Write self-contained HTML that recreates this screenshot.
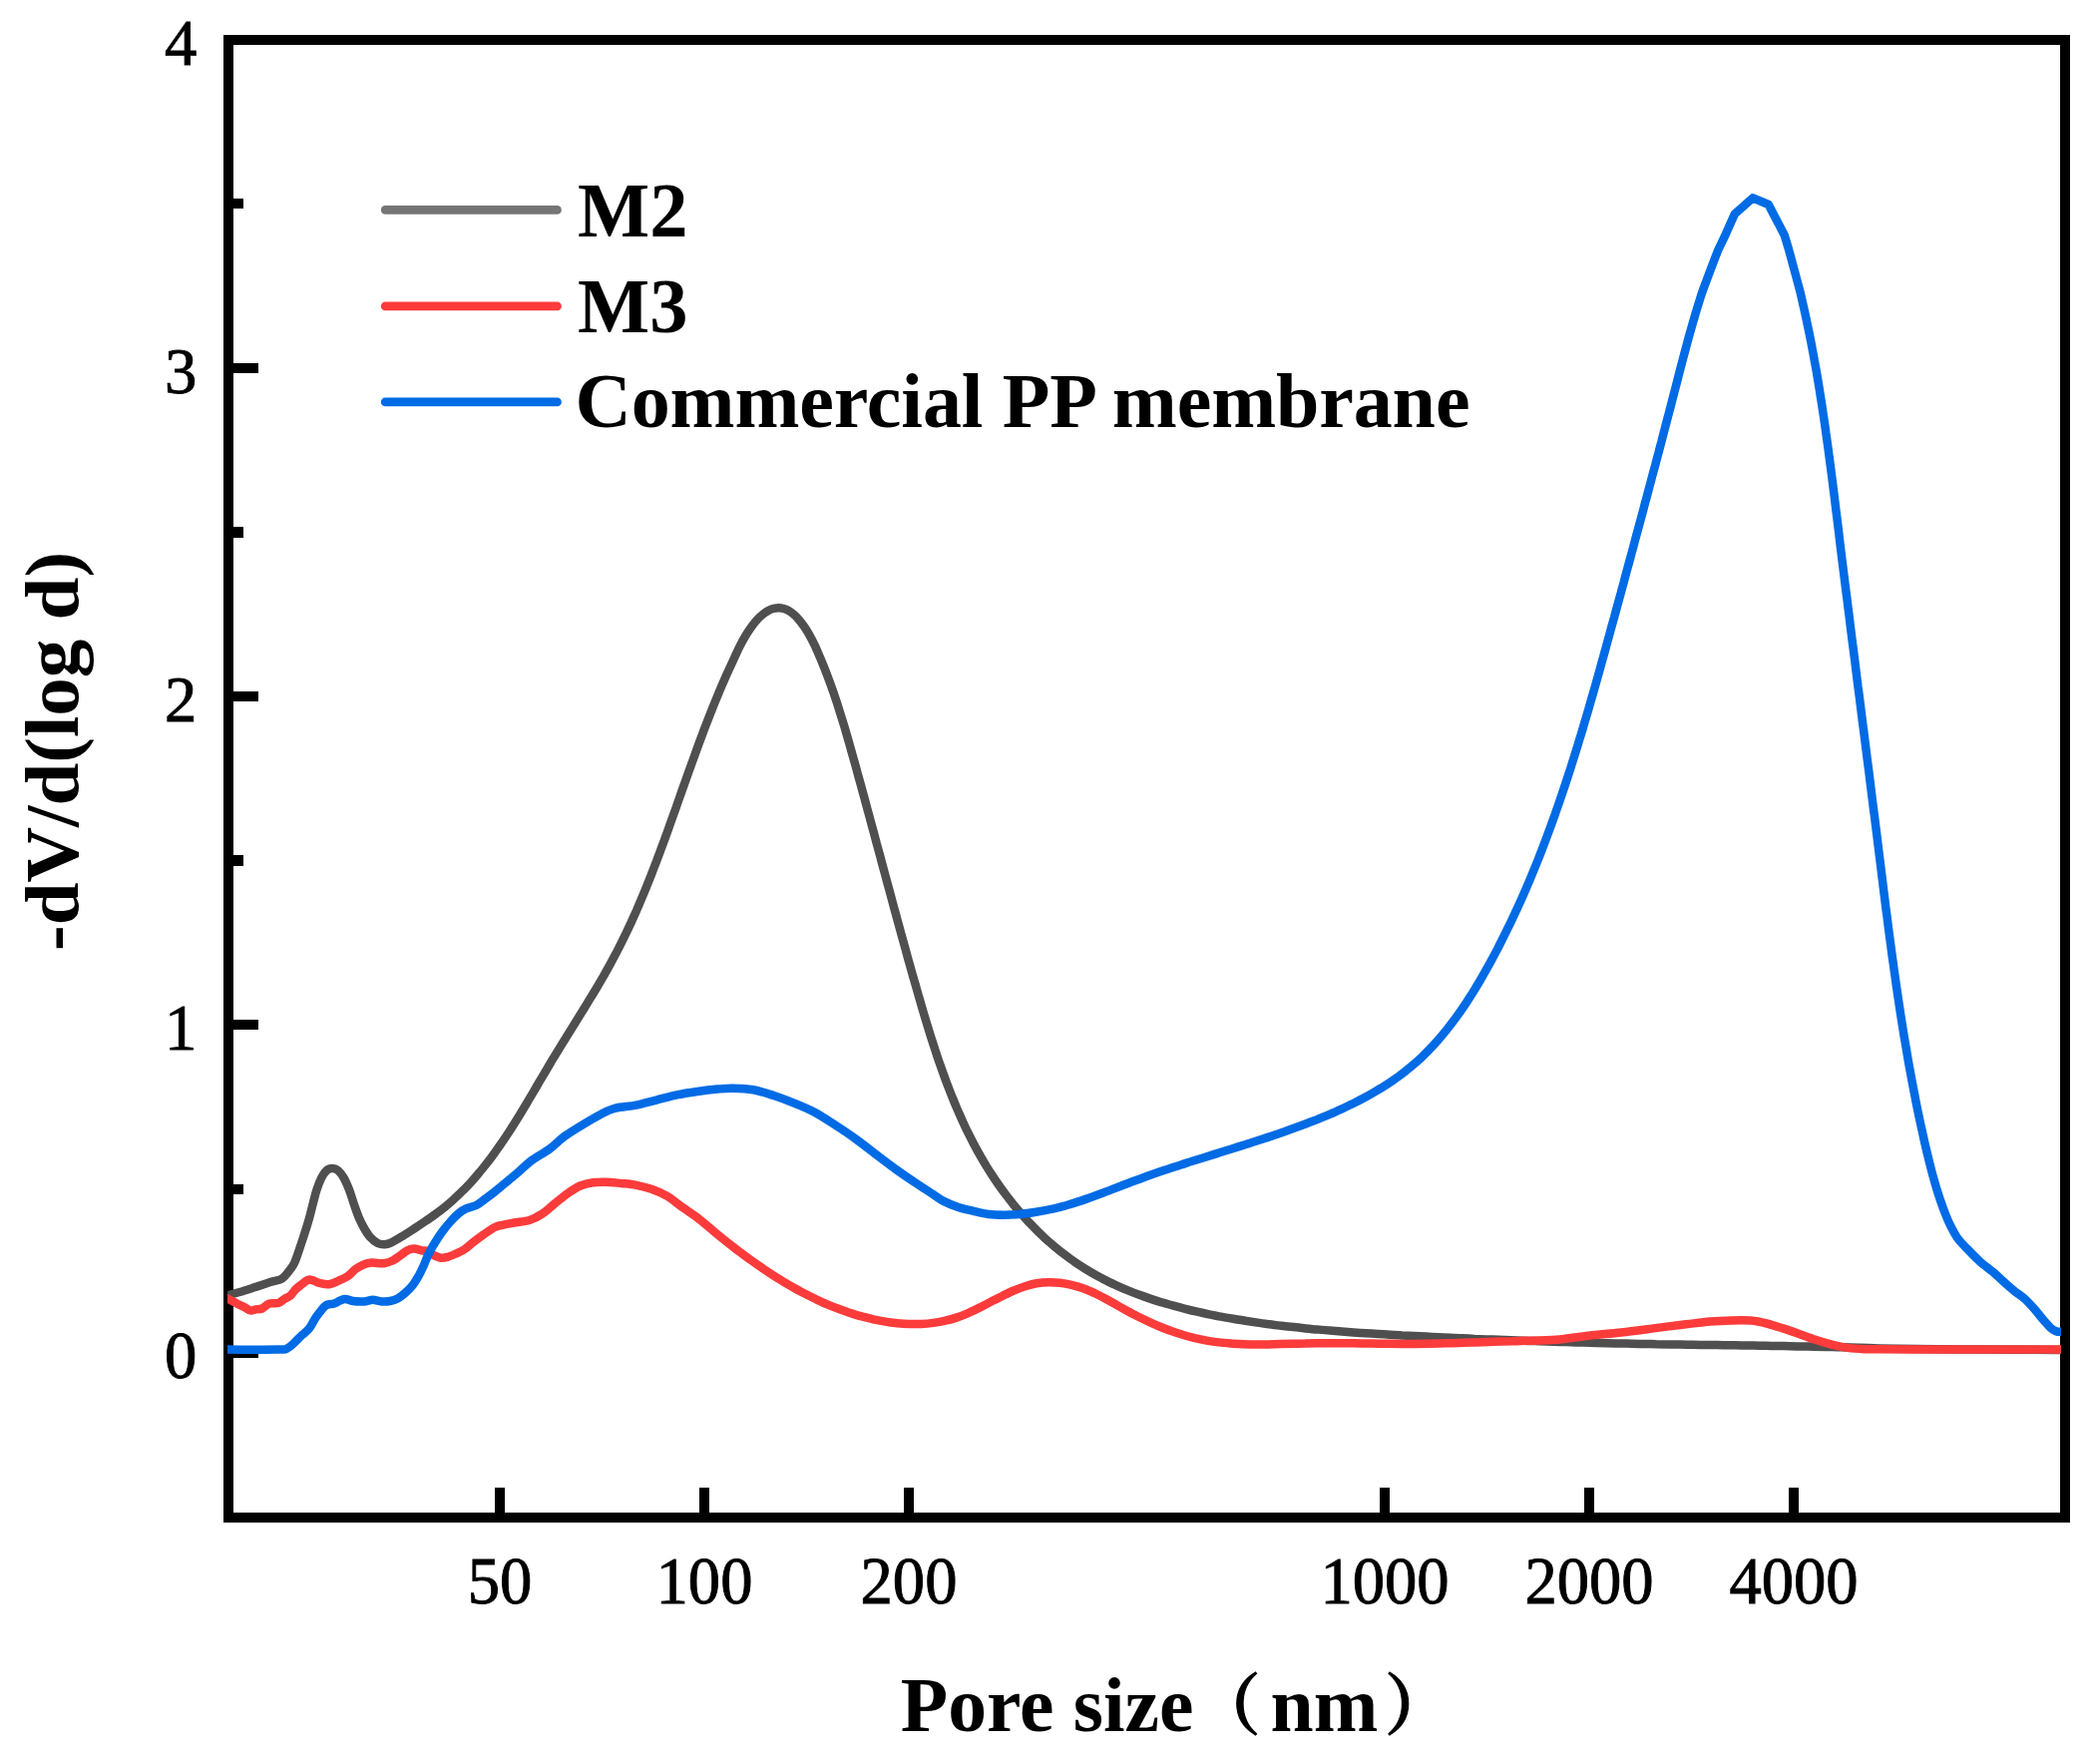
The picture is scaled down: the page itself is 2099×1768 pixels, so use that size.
<!DOCTYPE html>
<html lang="en"><head><meta charset="utf-8"><title>Pore size distribution</title>
<style>html,body{margin:0;padding:0;background:#fff}svg{display:block}.tk{font-family:"Liberation Serif","Noto Serif CJK SC",serif;font-size:64.6px;fill:#000;stroke:#000;stroke-width:.9px}.b{font-family:"Liberation Serif","Noto Serif CJK SC",serif;font-weight:bold;font-size:77px;fill:#000}.cj{font-family:"Liberation Serif","Noto Serif CJK SC",serif;font-weight:bold;font-size:77px;fill:#000}</style></head><body>
<svg width="2099" height="1768" viewBox="0 0 2099 1768">
<rect width="2099" height="1768" fill="#fff"/>
<defs><clipPath id="cp"><rect x="228" y="45" width="1838" height="1471"/></clipPath></defs>
<g shape-rendering="crispEdges" fill="#000">
<rect x="224" y="35" width="1851" height="10"/>
<rect x="224" y="1516" width="1851" height="10"/>
<rect x="224" y="35" width="10" height="1491"/>
<rect x="2065" y="35" width="10" height="1491"/>
<rect x="234" y="1351" width="25" height="10"/>
<rect x="234" y="1022" width="25" height="10"/>
<rect x="234" y="693" width="25" height="10"/>
<rect x="234" y="364" width="25" height="10"/>
<rect x="234" y="199" width="10" height="10"/>
<rect x="234" y="528" width="10" height="11"/>
<rect x="234" y="857" width="10" height="11"/>
<rect x="234" y="1187" width="10" height="10"/>
<rect x="496" y="1491" width="10" height="25"/>
<rect x="701" y="1491" width="10" height="25"/>
<rect x="906" y="1491" width="10" height="25"/>
<rect x="1383" y="1491" width="10" height="25"/>
<rect x="1588" y="1491" width="10" height="25"/>
<rect x="1793" y="1491" width="10" height="25"/>
</g>
<g clip-path="url(#cp)" fill="none" stroke-width="8.5" stroke-linejoin="round" stroke-linecap="butt">
<path stroke="#4f4f4f" d="M226.0,1299.0C226.3,1298.9 225.7,1299.1 228.1,1298.4C230.5,1297.7 235.7,1296.3 240.2,1295.0C244.7,1293.7 250.2,1291.9 255.2,1290.3C260.2,1288.7 265.5,1286.8 270.1,1285.3C274.7,1283.8 279.3,1283.6 282.6,1281.6C285.9,1279.6 287.9,1276.1 290.0,1273.5C292.1,1270.9 293.3,1269.5 295.0,1266.0C296.7,1262.5 298.3,1257.1 300.0,1252.3C301.7,1247.5 303.3,1242.5 305.0,1237.3C306.7,1232.1 308.5,1226.2 310.0,1221.0C311.5,1215.8 312.6,1210.8 313.8,1206.0C315.1,1201.2 316.1,1196.7 317.5,1192.4C318.9,1188.1 320.8,1183.2 322.5,1180.0C324.2,1176.8 325.8,1174.5 327.5,1173.0C329.2,1171.5 331.1,1171.0 333.0,1171.0C334.9,1171.0 336.8,1171.5 338.7,1173.0C340.6,1174.5 342.4,1176.8 344.3,1180.0C346.2,1183.2 348.2,1187.8 350.0,1192.4C351.8,1197.0 353.3,1202.6 355.0,1207.4C356.7,1212.2 358.3,1217.1 360.0,1221.0C361.7,1224.9 363.2,1227.9 365.0,1231.0C366.8,1234.1 368.7,1237.3 371.0,1239.8C373.3,1242.3 376.2,1244.8 378.6,1246.0C381.0,1247.2 383.2,1247.4 385.5,1247.3C387.8,1247.2 389.1,1246.9 392.3,1245.4C395.5,1243.9 401.0,1240.4 404.8,1238.1C408.7,1235.8 411.8,1233.7 415.3,1231.4C418.7,1229.2 422.2,1226.9 425.6,1224.6C429.0,1222.3 432.4,1220.0 435.7,1217.5C439.0,1215.1 442.3,1212.6 445.5,1210.1C448.7,1207.5 451.8,1204.8 454.8,1202.1C457.9,1199.4 460.8,1196.5 463.7,1193.6C466.6,1190.8 469.4,1187.8 472.2,1184.8C474.9,1181.8 477.6,1178.7 480.2,1175.5C482.9,1172.4 485.4,1169.2 487.9,1166.0C490.5,1162.8 492.9,1159.5 495.3,1156.2C497.7,1152.9 500.1,1149.6 502.4,1146.2C504.7,1142.8 507.0,1139.4 509.2,1136.0C511.5,1132.6 513.7,1129.1 515.8,1125.7C518.0,1122.2 520.2,1118.7 522.3,1115.2C524.4,1111.7 526.5,1108.2 528.6,1104.7C530.7,1101.1 532.8,1097.6 534.9,1094.1C537.0,1090.5 539.0,1087.0 541.1,1083.4C543.2,1079.9 545.3,1076.4 547.4,1072.8C549.5,1069.3 551.6,1065.7 553.7,1062.2C555.8,1058.7 557.9,1055.2 560.1,1051.7C562.2,1048.2 564.4,1044.7 566.6,1041.2C568.7,1037.7 570.9,1034.2 573.1,1030.7C575.3,1027.2 577.4,1023.7 579.6,1020.2C581.8,1016.7 584.0,1013.2 586.1,1009.7C588.3,1006.3 590.4,1002.8 592.5,999.2C594.7,995.7 596.8,992.2 598.9,988.7C601.0,985.2 603.0,981.6 605.1,978.1C607.1,974.5 609.1,970.9 611.1,967.4C613.1,963.8 615.0,960.2 616.9,956.6C618.8,952.9 620.7,949.3 622.5,945.7C624.3,942.0 626.1,938.3 627.9,934.7C629.6,931.0 631.4,927.3 633.1,923.6C634.8,919.8 636.4,916.1 638.1,912.4C639.7,908.6 641.3,904.9 642.9,901.1C644.5,897.3 646.1,893.5 647.6,889.8C649.1,886.0 650.7,882.2 652.2,878.4C653.7,874.5 655.2,870.7 656.6,866.9C658.1,863.1 659.5,859.2 661.0,855.4C662.4,851.6 663.8,847.7 665.3,843.9C666.7,840.0 668.1,836.1 669.5,832.3C670.9,828.4 672.3,824.5 673.6,820.7C675.0,816.8 676.4,812.9 677.8,809.1C679.1,805.2 680.5,801.3 681.9,797.4C683.2,793.6 684.6,789.7 686.0,785.8C687.4,781.9 688.7,778.0 690.1,774.2C691.5,770.3 692.9,766.4 694.3,762.6C695.7,758.7 697.1,754.8 698.5,751.0C699.9,747.1 701.3,743.3 702.8,739.4C704.2,735.6 705.6,731.7 707.1,727.9C708.6,724.1 710.1,720.2 711.6,716.4C713.1,712.6 714.6,708.8 716.1,705.0C717.7,701.2 719.2,697.4 720.8,693.6C722.4,689.8 724.0,686.1 725.7,682.3C727.3,678.6 729.0,674.8 730.7,671.1C732.4,667.4 734.0,663.9 735.8,660.0C737.7,656.0 739.6,651.5 741.6,647.6C743.6,643.7 745.6,640.0 747.6,636.7C749.6,633.4 751.6,630.4 753.6,627.7C755.6,625.0 757.6,622.5 759.6,620.4C761.6,618.3 763.8,616.4 765.6,615.0C767.4,613.6 768.9,612.6 770.6,611.8C772.3,610.9 773.9,610.3 775.6,609.9C777.3,609.5 778.9,609.3 780.6,609.3C782.3,609.3 783.9,609.5 785.6,610.0C787.3,610.5 788.9,611.2 790.6,612.2C792.3,613.2 793.9,614.4 795.6,615.8C797.3,617.2 798.9,618.9 800.6,620.8C802.3,622.7 803.9,624.9 805.6,627.3C807.3,629.7 808.8,632.0 810.6,635.2C812.4,638.4 814.6,642.5 816.6,646.6C818.6,650.7 820.6,655.8 822.4,659.9C824.1,664.0 825.5,667.4 827.0,671.1C828.5,674.9 829.9,678.7 831.3,682.5C832.7,686.3 834.1,690.1 835.4,693.9C836.7,697.7 838.0,701.6 839.3,705.4C840.5,709.3 841.7,713.1 842.9,717.0C844.1,720.9 845.3,724.7 846.5,728.6C847.6,732.5 848.8,736.4 849.9,740.3C851.0,744.2 852.1,748.1 853.2,752.0C854.3,755.9 855.4,759.8 856.5,763.7C857.6,767.6 858.7,771.5 859.7,775.4C860.8,779.3 861.9,783.2 863.0,787.1C864.0,791.0 865.1,794.9 866.2,798.8C867.2,802.7 868.3,806.6 869.3,810.5C870.4,814.4 871.5,818.3 872.5,822.2C873.6,826.1 874.6,830.0 875.7,833.9C876.7,837.8 877.8,841.7 878.8,845.6C879.9,849.4 880.9,853.3 882.0,857.2C883.0,861.1 884.1,865.0 885.1,868.9C886.2,872.8 887.2,876.7 888.3,880.6C889.3,884.5 890.4,888.4 891.5,892.3C892.5,896.2 893.6,900.1 894.6,904.0C895.7,907.9 896.7,911.8 897.8,915.7C898.9,919.6 899.9,923.5 901.0,927.4C902.1,931.3 903.1,935.2 904.2,939.1C905.3,943.0 906.4,946.9 907.5,950.8C908.5,954.7 909.6,958.6 910.7,962.6C911.8,966.5 912.9,970.4 914.0,974.3C915.1,978.2 916.2,982.1 917.4,986.0C918.5,989.9 919.6,993.8 920.7,997.7C921.9,1001.6 923.0,1005.6 924.1,1009.5C925.3,1013.4 926.4,1017.3 927.6,1021.2C928.8,1025.1 930.0,1029.0 931.2,1032.9C932.4,1036.8 933.6,1040.7 934.9,1044.6C936.1,1048.4 937.4,1052.3 938.6,1056.2C939.9,1060.0 941.2,1063.9 942.6,1067.7C943.9,1071.6 945.3,1075.4 946.7,1079.2C948.1,1083.1 949.5,1086.9 951.0,1090.6C952.4,1094.4 953.9,1098.2 955.5,1102.0C957.0,1105.7 958.6,1109.4 960.2,1113.2C961.8,1116.9 963.4,1120.6 965.1,1124.2C966.8,1127.9 968.5,1131.6 970.3,1135.2C972.1,1138.8 973.9,1142.4 975.8,1146.0C977.7,1149.6 979.6,1153.1 981.6,1156.6C983.6,1160.1 985.6,1163.6 987.7,1167.1C989.8,1170.6 992.0,1174.0 994.2,1177.4C996.4,1180.8 998.7,1184.2 1001.0,1187.5C1003.3,1190.8 1005.7,1194.1 1008.1,1197.3C1010.6,1200.6 1013.1,1203.8 1015.6,1207.0C1018.2,1210.1 1020.8,1213.2 1023.5,1216.3C1026.1,1219.3 1028.9,1222.3 1031.6,1225.3C1034.4,1228.2 1037.2,1231.1 1040.1,1234.0C1043.0,1236.8 1045.9,1239.6 1048.9,1242.3C1051.9,1245.0 1055.0,1247.6 1058.1,1250.2C1061.1,1252.8 1064.3,1255.3 1067.5,1257.7C1070.7,1260.1 1073.9,1262.5 1077.2,1264.8C1080.5,1267.0 1083.9,1269.2 1087.3,1271.4C1090.7,1273.5 1094.1,1275.5 1097.6,1277.5C1101.1,1279.4 1104.6,1281.3 1108.2,1283.1C1111.8,1284.9 1115.4,1286.7 1119.1,1288.3C1122.7,1290.0 1126.4,1291.6 1130.1,1293.1C1133.9,1294.7 1137.6,1296.2 1141.4,1297.6C1145.2,1299.0 1149.0,1300.3 1152.9,1301.6C1156.7,1302.9 1160.6,1304.2 1164.5,1305.3C1168.4,1306.5 1172.3,1307.7 1176.2,1308.7C1180.1,1309.8 1184.1,1310.9 1188.1,1311.8C1192.0,1312.8 1196.0,1313.8 1200.0,1314.7C1204.0,1315.6 1208.0,1316.4 1212.0,1317.3C1216.0,1318.1 1220.0,1318.9 1224.0,1319.6C1228.1,1320.4 1232.1,1321.1 1236.1,1321.8C1240.1,1322.5 1244.2,1323.1 1248.2,1323.8C1252.2,1324.4 1256.2,1325.0 1260.3,1325.6C1264.3,1326.2 1268.3,1326.7 1272.3,1327.2C1276.4,1327.8 1280.4,1328.3 1284.4,1328.8C1288.4,1329.2 1292.5,1329.7 1296.5,1330.1C1300.5,1330.6 1304.5,1331.0 1308.6,1331.4C1312.6,1331.8 1316.6,1332.2 1320.6,1332.5C1324.7,1332.9 1328.7,1333.3 1332.7,1333.6C1336.7,1333.9 1340.8,1334.2 1344.8,1334.5C1348.8,1334.8 1352.9,1335.1 1356.9,1335.4C1360.9,1335.7 1365.0,1336.0 1369.0,1336.2C1373.0,1336.5 1377.1,1336.7 1381.1,1337.0C1385.1,1337.2 1389.2,1337.5 1393.2,1337.7C1397.2,1337.9 1401.3,1338.1 1405.3,1338.4C1409.3,1338.6 1413.4,1338.8 1417.4,1339.0C1421.5,1339.2 1425.5,1339.4 1429.5,1339.6C1433.6,1339.8 1437.6,1340.0 1441.7,1340.2C1445.7,1340.4 1449.7,1340.6 1453.8,1340.8C1457.8,1341.0 1461.9,1341.2 1465.9,1341.3C1470.0,1341.5 1474.0,1341.7 1478.1,1341.9C1482.1,1342.0 1486.2,1342.2 1490.2,1342.4C1494.3,1342.5 1498.3,1342.7 1502.4,1342.8C1506.4,1343.0 1510.5,1343.1 1514.5,1343.3C1518.6,1343.4 1522.6,1343.6 1526.7,1343.7C1530.7,1343.9 1534.8,1344.0 1538.8,1344.1C1542.9,1344.3 1546.9,1344.4 1551.0,1344.5C1555.0,1344.6 1559.1,1344.8 1563.1,1344.9C1567.2,1345.0 1571.2,1345.1 1575.3,1345.2C1579.3,1345.4 1583.4,1345.5 1587.4,1345.6C1591.5,1345.7 1595.5,1345.8 1599.6,1345.9C1603.6,1346.0 1607.7,1346.1 1611.8,1346.2C1615.8,1346.3 1619.9,1346.4 1623.9,1346.4C1628.0,1346.5 1632.0,1346.6 1636.1,1346.7C1640.1,1346.8 1644.2,1346.9 1648.2,1346.9C1652.3,1347.0 1656.3,1347.1 1660.4,1347.2C1664.4,1347.2 1668.5,1347.3 1672.5,1347.4C1676.6,1347.4 1680.6,1347.5 1684.7,1347.6C1688.8,1347.6 1692.8,1347.7 1696.9,1347.7C1700.9,1347.8 1705.0,1347.9 1709.0,1347.9C1713.1,1348.0 1717.1,1348.0 1721.2,1348.1C1725.2,1348.2 1729.3,1348.2 1733.3,1348.3C1737.4,1348.3 1741.4,1348.4 1745.5,1348.4C1749.5,1348.5 1753.6,1348.6 1757.6,1348.6C1761.7,1348.7 1765.7,1348.7 1769.8,1348.8C1773.8,1348.9 1777.9,1348.9 1781.9,1349.0C1786.0,1349.1 1790.0,1349.1 1794.1,1349.2C1798.1,1349.3 1802.2,1349.4 1806.2,1349.4C1810.3,1349.5 1814.3,1349.6 1818.4,1349.7C1822.4,1349.7 1826.5,1349.8 1830.5,1349.9C1834.6,1350.0 1838.6,1350.1 1842.7,1350.2C1846.7,1350.3 1845.2,1350.2 1854.8,1350.5C1864.4,1350.8 1879.1,1351.5 1900.0,1351.8C1920.9,1352.1 1951.8,1352.4 1980.0,1352.6C2008.2,1352.8 2054.2,1352.9 2069.0,1353.0"/>
<path stroke="#fc3b3b" d="M226.0,1300.5C226.3,1300.7 226.3,1300.6 228.1,1301.5C229.8,1302.4 233.7,1304.5 236.5,1305.9C239.3,1307.4 242.8,1309.0 245.2,1310.2C247.6,1311.5 248.9,1313.0 250.8,1313.4C252.7,1313.8 254.4,1312.7 256.4,1312.4C258.4,1312.1 260.4,1312.5 262.7,1311.5C265.0,1310.5 267.3,1307.4 270.0,1306.5C272.7,1305.6 276.4,1306.8 278.9,1306.0C281.4,1305.2 282.9,1303.3 285.0,1302.0C287.1,1300.7 289.4,1300.0 291.3,1298.4C293.2,1296.8 294.4,1294.1 296.3,1292.2C298.2,1290.3 300.5,1288.8 302.6,1287.2C304.7,1285.6 306.9,1283.4 308.8,1282.8C310.7,1282.2 311.7,1282.8 313.8,1283.4C315.9,1284.0 318.6,1285.6 321.3,1286.2C324.0,1286.8 327.1,1287.6 330.0,1287.2C332.9,1286.8 335.6,1285.4 338.7,1284.0C341.8,1282.6 345.8,1281.0 348.7,1279.0C351.6,1277.0 353.7,1274.1 356.2,1272.2C358.7,1270.3 361.2,1268.9 363.7,1267.8C366.2,1266.7 368.5,1266.0 371.0,1265.7C373.5,1265.4 376.3,1265.9 378.6,1266.0C380.9,1266.1 382.3,1266.6 384.8,1266.2C387.3,1265.8 390.9,1264.8 393.6,1263.5C396.3,1262.2 398.5,1260.2 401.0,1258.5C403.5,1256.8 406.2,1254.5 408.5,1253.3C410.8,1252.1 412.2,1251.6 414.8,1251.6C417.4,1251.6 421.8,1253.1 424.0,1253.5C426.2,1253.9 426.2,1253.1 428.0,1253.9C429.8,1254.7 432.6,1257.1 434.9,1258.2C437.2,1259.3 439.4,1260.4 441.7,1260.7C444.0,1261.0 445.9,1260.6 448.5,1259.9C451.1,1259.2 454.2,1257.8 457.0,1256.5C459.8,1255.2 462.7,1254.0 465.5,1252.2C468.3,1250.4 470.9,1247.8 474.0,1245.4C477.1,1243.0 480.5,1240.4 484.2,1237.8C487.9,1235.2 492.6,1231.7 496.0,1230.0C499.4,1228.3 501.4,1228.3 504.6,1227.6C507.8,1226.8 511.0,1226.3 515.3,1225.5C519.6,1224.7 525.9,1224.5 530.6,1223.0C535.3,1221.5 539.2,1219.4 543.4,1216.6C547.6,1213.8 551.8,1209.8 556.0,1206.4C560.2,1203.0 564.6,1199.2 568.9,1196.2C573.2,1193.2 577.4,1190.3 581.6,1188.5C585.9,1186.7 590.2,1185.8 594.4,1185.2C598.6,1184.6 602.3,1184.6 607.0,1184.7C611.7,1184.8 617.3,1185.5 622.4,1186.0C627.5,1186.5 632.7,1186.8 637.8,1187.8C642.9,1188.8 647.9,1190.0 653.0,1191.8C658.1,1193.6 663.3,1195.7 668.4,1198.7C673.5,1201.7 678.6,1206.1 683.7,1209.7C688.8,1213.3 693.5,1216.2 699.0,1220.4C704.5,1224.7 710.8,1230.3 716.8,1235.2C722.8,1240.1 730.1,1246.0 734.8,1249.6C739.4,1253.3 741.3,1254.6 744.6,1257.1C748.0,1259.6 751.3,1262.0 754.7,1264.4C758.0,1266.8 761.4,1269.1 764.8,1271.5C768.3,1273.8 771.7,1276.1 775.2,1278.3C778.7,1280.5 782.2,1282.7 785.7,1284.8C789.2,1286.9 792.8,1289.0 796.3,1291.0C799.9,1293.0 803.5,1295.0 807.1,1296.8C810.8,1298.7 814.4,1300.5 818.1,1302.3C821.8,1304.0 825.5,1305.7 829.3,1307.3C833.0,1308.9 836.8,1310.4 840.6,1311.8C844.3,1313.3 848.2,1314.6 852.0,1315.9C855.9,1317.1 859.7,1318.3 863.6,1319.4C867.5,1320.4 871.5,1321.4 875.4,1322.3C879.4,1323.2 883.4,1324.0 887.4,1324.6C891.4,1325.3 895.4,1325.8 899.4,1326.2C903.4,1326.6 907.5,1326.9 911.5,1327.0C915.6,1327.2 919.6,1327.1 923.6,1327.0C927.7,1326.8 931.7,1326.4 935.7,1325.9C939.7,1325.4 943.7,1324.7 947.6,1323.7C951.6,1322.8 955.5,1321.7 959.4,1320.4C963.3,1319.1 967.2,1317.5 971.0,1315.8C974.8,1314.2 978.6,1312.3 982.4,1310.4C986.1,1308.5 989.9,1306.5 993.6,1304.6C997.4,1302.6 1001.1,1300.6 1004.9,1298.8C1008.6,1297.0 1012.4,1295.1 1016.1,1293.5C1019.9,1291.9 1023.7,1290.4 1027.5,1289.2C1031.3,1288.0 1035.1,1287.0 1039.0,1286.3C1042.8,1285.7 1046.7,1285.3 1050.6,1285.2C1054.5,1285.1 1058.5,1285.3 1062.4,1285.7C1066.3,1286.2 1070.2,1286.9 1074.1,1287.8C1078.0,1288.7 1081.9,1289.9 1085.7,1291.3C1089.5,1292.7 1093.3,1294.3 1097.1,1296.0C1100.8,1297.8 1104.5,1299.7 1108.2,1301.7C1111.9,1303.7 1115.5,1305.8 1119.2,1307.8C1122.8,1309.9 1126.5,1312.0 1130.1,1314.0C1133.8,1316.0 1137.5,1317.9 1141.2,1319.8C1144.8,1321.6 1148.5,1323.4 1152.3,1325.1C1156.0,1326.8 1159.7,1328.4 1163.5,1330.0C1167.2,1331.5 1171.0,1333.0 1174.8,1334.3C1178.6,1335.6 1182.4,1336.9 1186.2,1338.0C1190.1,1339.2 1193.9,1340.2 1197.8,1341.2C1201.7,1342.1 1205.7,1342.9 1209.6,1343.6C1213.6,1344.3 1217.6,1344.9 1221.6,1345.4C1225.6,1345.9 1229.7,1346.2 1233.8,1346.5C1237.8,1346.8 1241.9,1347.0 1246.0,1347.2C1250.2,1347.3 1254.3,1347.4 1258.4,1347.4C1262.6,1347.5 1266.7,1347.4 1270.9,1347.4C1275.0,1347.3 1279.2,1347.2 1283.3,1347.1C1287.5,1347.0 1291.7,1346.9 1295.8,1346.8C1300.0,1346.7 1304.1,1346.5 1308.3,1346.5C1312.4,1346.4 1316.5,1346.3 1320.6,1346.2C1324.7,1346.2 1328.8,1346.2 1332.9,1346.2C1337.0,1346.2 1341.1,1346.2 1345.2,1346.2C1349.2,1346.3 1353.3,1346.3 1357.4,1346.3C1361.4,1346.4 1365.5,1346.5 1369.5,1346.5C1373.6,1346.6 1377.6,1346.6 1381.7,1346.7C1385.7,1346.7 1389.8,1346.8 1393.8,1346.8C1397.9,1346.9 1401.9,1346.9 1406.0,1346.9C1410.0,1346.9 1414.1,1346.9 1418.1,1346.9C1422.2,1346.9 1426.3,1346.8 1430.3,1346.8C1434.4,1346.7 1438.5,1346.6 1442.6,1346.5C1446.7,1346.4 1450.7,1346.3 1454.8,1346.2C1458.9,1346.1 1463.0,1346.0 1467.1,1345.8C1471.2,1345.7 1475.3,1345.5 1479.4,1345.4C1483.5,1345.3 1487.6,1345.1 1491.7,1345.0C1495.8,1344.8 1499.9,1344.7 1504.0,1344.5C1508.1,1344.4 1512.2,1344.3 1516.3,1344.2C1520.4,1344.0 1521.3,1344.0 1528.6,1343.8C1535.9,1343.6 1549.4,1343.7 1560.0,1342.8C1570.6,1341.9 1581.7,1339.9 1592.5,1338.7C1603.3,1337.5 1614.2,1336.7 1625.0,1335.5C1635.8,1334.3 1646.6,1332.8 1657.4,1331.4C1668.2,1330.0 1680.5,1328.4 1690.0,1327.3C1699.5,1326.2 1706.6,1325.2 1714.2,1324.6C1721.8,1324.0 1728.6,1323.7 1735.4,1323.5C1742.2,1323.3 1748.9,1323.1 1754.8,1323.6C1760.7,1324.1 1765.6,1325.2 1771.0,1326.5C1776.4,1327.8 1781.9,1329.7 1787.3,1331.4C1792.7,1333.2 1798.1,1335.1 1803.5,1337.0C1808.9,1338.9 1814.4,1341.0 1819.8,1342.8C1825.2,1344.6 1830.6,1346.2 1836.0,1347.6C1841.4,1348.9 1846.9,1350.1 1852.3,1350.9C1857.7,1351.7 1863.0,1352.0 1868.5,1352.2C1874.0,1352.4 1874.8,1352.2 1885.0,1352.3C1895.2,1352.3 1913.9,1352.5 1929.7,1352.5C1945.5,1352.5 1962.9,1352.4 1979.6,1352.4C1996.3,1352.4 2015.1,1352.4 2030.0,1352.4C2044.9,1352.4 2062.5,1352.4 2069.0,1352.4"/>
<path stroke="#006be4" d="M226.0,1352.6C226.3,1352.6 219.1,1352.6 228.1,1352.6C237.1,1352.6 269.9,1352.9 280.0,1352.6C290.1,1352.3 286.3,1351.9 288.8,1350.8C291.3,1349.7 292.7,1347.9 295.0,1345.8C297.3,1343.7 300.1,1340.7 302.6,1338.3C305.1,1335.9 307.7,1334.3 310.0,1331.4C312.3,1328.5 314.2,1323.9 316.3,1320.8C318.4,1317.7 320.6,1314.9 322.5,1312.7C324.4,1310.5 325.4,1308.8 327.5,1307.8C329.6,1306.8 332.7,1307.2 335.0,1306.5C337.3,1305.8 339.3,1304.2 341.2,1303.4C343.1,1302.7 344.1,1301.9 346.2,1302.0C348.3,1302.1 350.6,1303.6 353.7,1304.0C356.8,1304.4 361.6,1304.6 364.9,1304.4C368.2,1304.2 370.7,1302.8 373.6,1302.8C376.5,1302.8 379.5,1304.2 382.4,1304.4C385.3,1304.6 388.3,1304.5 391.0,1304.0C393.7,1303.5 396.1,1302.8 398.6,1301.5C401.1,1300.2 403.5,1298.2 406.0,1296.0C408.5,1293.8 411.2,1291.3 413.5,1288.4C415.8,1285.5 417.9,1281.8 419.8,1278.5C421.7,1275.2 423.0,1272.1 424.7,1268.4C426.4,1264.7 427.8,1260.5 429.8,1256.5C431.8,1252.5 434.3,1248.3 436.6,1244.6C438.9,1240.9 440.8,1237.8 443.4,1234.4C445.9,1231.0 449.1,1227.1 451.9,1224.0C454.7,1220.9 457.8,1217.7 460.4,1215.6C462.9,1213.5 464.4,1212.7 467.2,1211.4C470.0,1210.1 474.3,1209.6 477.4,1208.0C480.5,1206.4 482.8,1204.3 485.9,1202.0C489.0,1199.7 492.0,1197.6 496.0,1194.4C500.0,1191.2 505.5,1186.5 509.7,1183.0C513.9,1179.5 517.1,1176.8 521.0,1173.5C524.9,1170.2 528.0,1166.7 533.0,1163.0C538.0,1159.3 545.5,1155.5 551.0,1151.5C556.5,1147.5 560.5,1142.8 566.0,1138.8C571.5,1134.8 578.0,1130.9 584.0,1127.3C590.0,1123.7 596.5,1119.8 602.0,1117.0C607.5,1114.2 611.0,1112.2 617.0,1110.7C623.0,1109.2 631.0,1109.1 637.8,1107.7C644.6,1106.3 651.2,1104.3 658.0,1102.6C664.8,1100.9 671.8,1098.8 678.6,1097.4C685.4,1096.0 692.2,1095.0 699.0,1094.0C705.8,1093.0 713.4,1092.1 719.4,1091.6C725.4,1091.1 728.8,1090.7 734.7,1090.8C740.6,1090.9 748.2,1091.1 755.0,1092.3C761.8,1093.5 768.7,1095.8 775.5,1098.0C782.3,1100.2 789.2,1102.8 796.0,1105.6C802.8,1108.3 809.2,1110.9 816.0,1114.5C822.8,1118.1 829.9,1122.9 836.7,1127.3C843.5,1131.7 850.2,1136.1 857.0,1141.0C863.8,1145.9 870.7,1151.4 877.5,1156.6C884.3,1161.8 891.2,1167.1 898.0,1172.0C904.8,1176.9 912.4,1182.0 918.4,1186.0C924.4,1190.0 929.2,1193.1 933.7,1196.0C938.2,1198.9 940.8,1201.3 945.3,1203.6C949.8,1205.9 955.5,1208.3 960.6,1210.0C965.7,1211.7 970.8,1212.6 975.9,1213.8C981.0,1215.0 986.1,1216.3 991.2,1217.0C996.3,1217.7 1001.4,1217.7 1006.5,1217.7C1011.6,1217.7 1016.7,1217.5 1021.8,1217.0C1026.9,1216.5 1031.1,1216.0 1037.0,1215.0C1042.9,1214.0 1052.1,1212.3 1057.5,1211.2C1062.8,1210.0 1065.3,1209.1 1069.2,1208.0C1073.1,1206.9 1076.9,1205.7 1080.8,1204.4C1084.6,1203.2 1088.5,1201.8 1092.3,1200.5C1096.1,1199.1 1099.9,1197.7 1103.8,1196.3C1107.6,1194.9 1111.4,1193.4 1115.2,1191.9C1119.0,1190.5 1122.8,1189.0 1126.6,1187.6C1130.4,1186.1 1134.2,1184.7 1138.0,1183.3C1141.8,1181.9 1145.6,1180.5 1149.4,1179.1C1153.2,1177.8 1157.0,1176.4 1160.8,1175.1C1164.6,1173.8 1168.4,1172.5 1172.2,1171.3C1176.1,1170.0 1179.9,1168.7 1183.7,1167.5C1187.5,1166.3 1191.3,1165.0 1195.2,1163.8C1199.0,1162.6 1202.8,1161.4 1206.7,1160.2C1210.5,1159.0 1214.3,1157.8 1218.2,1156.6C1222.0,1155.4 1225.9,1154.2 1229.7,1153.0C1233.5,1151.8 1237.4,1150.6 1241.2,1149.4C1245.1,1148.2 1248.9,1147.0 1252.8,1145.7C1256.6,1144.5 1260.5,1143.3 1264.3,1142.0C1268.2,1140.7 1272.0,1139.5 1275.9,1138.2C1279.7,1136.9 1283.6,1135.6 1287.5,1134.2C1291.3,1132.9 1295.2,1131.5 1299.0,1130.1C1302.9,1128.7 1306.7,1127.3 1310.6,1125.8C1314.4,1124.3 1318.2,1122.9 1322.0,1121.3C1325.8,1119.8 1329.6,1118.2 1333.4,1116.6C1337.2,1115.0 1340.9,1113.3 1344.6,1111.6C1348.3,1109.9 1352.0,1108.2 1355.7,1106.3C1359.3,1104.5 1363.0,1102.7 1366.5,1100.8C1370.1,1098.9 1373.7,1096.9 1377.1,1094.9C1380.6,1092.8 1384.1,1090.7 1387.5,1088.6C1390.9,1086.4 1394.2,1084.2 1397.5,1081.9C1400.8,1079.6 1404.0,1077.2 1407.2,1074.8C1410.3,1072.4 1413.4,1069.9 1416.5,1067.3C1419.5,1064.7 1422.5,1062.0 1425.4,1059.3C1428.3,1056.5 1431.1,1053.7 1433.9,1050.8C1436.6,1047.9 1439.3,1044.9 1442.0,1041.9C1444.6,1038.9 1447.2,1035.8 1449.7,1032.7C1452.2,1029.6 1454.7,1026.4 1457.1,1023.1C1459.5,1019.9 1461.9,1016.6 1464.2,1013.3C1466.5,1009.9 1468.8,1006.5 1471.0,1003.1C1473.2,999.7 1475.4,996.3 1477.6,992.8C1479.7,989.3 1481.8,985.8 1483.9,982.3C1485.9,978.8 1488.0,975.2 1489.9,971.6C1491.9,968.1 1493.9,964.5 1495.8,960.9C1497.8,957.3 1499.7,953.7 1501.6,950.1C1503.4,946.4 1505.3,942.8 1507.1,939.2C1508.9,935.5 1510.7,931.9 1512.5,928.2C1514.3,924.6 1516.0,920.9 1517.7,917.2C1519.4,913.6 1521.1,909.9 1522.8,906.2C1524.5,902.5 1526.1,898.8 1527.8,895.1C1529.4,891.4 1531.0,887.7 1532.6,883.9C1534.1,880.2 1535.7,876.5 1537.2,872.7C1538.8,869.0 1540.3,865.2 1541.8,861.5C1543.3,857.7 1544.7,854.0 1546.2,850.2C1547.6,846.4 1549.1,842.6 1550.5,838.8C1551.9,835.1 1553.3,831.3 1554.7,827.5C1556.1,823.7 1557.4,819.9 1558.8,816.1C1560.1,812.2 1561.5,808.4 1562.8,804.6C1564.1,800.8 1565.4,797.0 1566.7,793.1C1568.0,789.3 1569.3,785.4 1570.5,781.6C1571.8,777.8 1573.0,773.9 1574.3,770.1C1575.5,766.2 1576.7,762.4 1577.9,758.5C1579.1,754.6 1580.3,750.8 1581.5,746.9C1582.7,743.0 1583.9,739.2 1585.1,735.3C1586.2,731.4 1587.4,727.5 1588.5,723.6C1589.7,719.8 1590.8,715.9 1592.0,712.0C1593.1,708.1 1594.2,704.2 1595.3,700.3C1596.4,696.4 1597.6,692.5 1598.7,688.6C1599.8,684.7 1600.9,680.8 1602.0,676.9C1603.1,673.0 1604.2,669.1 1605.2,665.2C1606.3,661.3 1607.4,657.4 1608.5,653.5C1609.6,649.6 1610.6,645.7 1611.7,641.7C1612.8,637.8 1613.9,633.9 1614.9,630.0C1616.0,626.1 1617.1,622.2 1618.2,618.3C1619.2,614.4 1620.3,610.4 1621.4,606.5C1622.4,602.6 1623.5,598.7 1624.6,594.8C1625.6,590.9 1626.7,587.0 1627.8,583.1C1628.8,579.1 1629.9,575.2 1630.9,571.3C1632.0,567.4 1633.1,563.5 1634.1,559.6C1635.2,555.7 1636.2,551.8 1637.3,547.9C1638.3,543.9 1639.4,540.0 1640.4,536.1C1641.5,532.2 1642.6,528.3 1643.6,524.4C1644.7,520.5 1645.7,516.6 1646.8,512.7C1647.8,508.7 1648.8,504.8 1649.9,500.9C1650.9,497.0 1652.0,493.1 1653.0,489.2C1654.1,485.3 1655.1,481.4 1656.1,477.5C1657.2,473.6 1658.2,469.7 1659.3,465.8C1660.3,461.9 1661.3,458.0 1662.4,454.1C1663.4,450.2 1664.4,446.2 1665.5,442.3C1666.5,438.4 1667.5,434.5 1668.5,430.6C1669.6,426.7 1670.6,422.8 1671.6,418.9C1672.6,415.0 1673.7,411.1 1674.7,407.1C1675.7,403.2 1676.7,399.3 1677.7,395.4C1678.7,391.5 1679.8,387.5 1680.8,383.6C1681.8,379.7 1682.8,375.8 1683.8,371.8C1684.8,367.9 1685.9,364.0 1686.9,360.0C1687.9,356.1 1689.0,352.2 1690.0,348.3C1691.1,344.4 1692.1,340.4 1693.2,336.5C1694.3,332.6 1695.4,328.7 1696.5,324.8C1697.6,320.9 1698.8,317.0 1699.9,313.1C1701.1,309.2 1702.3,305.4 1703.5,301.5C1704.8,297.6 1704.2,298.5 1707.3,290.0C1710.5,281.4 1718.8,259.2 1722.5,250.0L1729.8,234.8L1738.7,214.7L1757.0,198.3L1772.7,205.0L1788.7,235.7L1793.0,250.0C1795.5,259.1 1801.5,281.4 1803.8,290.0C1806.0,298.6 1805.7,297.9 1806.6,301.9C1807.5,305.8 1808.4,309.8 1809.3,313.7C1810.2,317.7 1811.0,321.7 1811.8,325.6C1812.7,329.6 1813.5,333.6 1814.3,337.6C1815.1,341.5 1815.9,345.5 1816.6,349.5C1817.4,353.5 1818.1,357.5 1818.8,361.5C1819.6,365.5 1820.3,369.5 1821.0,373.5C1821.7,377.5 1822.3,381.5 1823.0,385.5C1823.7,389.5 1824.3,393.5 1824.9,397.6C1825.6,401.6 1826.2,405.6 1826.8,409.6C1827.4,413.6 1828.0,417.7 1828.6,421.7C1829.2,425.7 1829.8,429.7 1830.3,433.8C1830.9,437.8 1831.5,441.8 1832.0,445.9C1832.6,449.9 1833.1,453.9 1833.6,458.0C1834.2,462.0 1834.7,466.0 1835.2,470.1C1835.7,474.1 1836.3,478.1 1836.8,482.2C1837.3,486.2 1837.8,490.3 1838.3,494.3C1838.8,498.3 1839.3,502.4 1839.8,506.4C1840.3,510.4 1840.8,514.5 1841.3,518.5C1841.8,522.6 1842.3,526.6 1842.8,530.6C1843.3,534.7 1843.8,538.7 1844.2,542.8C1844.7,546.8 1845.2,550.8 1845.7,554.9C1846.2,558.9 1846.7,562.9 1847.2,567.0C1847.7,571.0 1848.2,575.0 1848.7,579.0C1849.2,583.1 1849.7,587.1 1850.2,591.1C1850.8,595.2 1851.3,599.2 1851.8,603.2C1852.3,607.3 1852.8,611.3 1853.3,615.3C1853.8,619.3 1854.3,623.4 1854.8,627.4C1855.3,631.4 1855.8,635.4 1856.3,639.5C1856.8,643.5 1857.3,647.5 1857.9,651.5C1858.4,655.6 1858.9,659.6 1859.4,663.6C1859.9,667.6 1860.4,671.7 1860.9,675.7C1861.4,679.7 1861.9,683.7 1862.4,687.8C1863.0,691.8 1863.5,695.8 1864.0,699.8C1864.5,703.9 1865.0,707.9 1865.5,711.9C1866.0,715.9 1866.5,720.0 1867.0,724.0C1867.6,728.0 1868.1,732.0 1868.6,736.1C1869.1,740.1 1869.6,744.1 1870.1,748.1C1870.6,752.2 1871.1,756.2 1871.6,760.2C1872.2,764.3 1872.7,768.3 1873.2,772.3C1873.7,776.3 1874.2,780.4 1874.7,784.4C1875.2,788.4 1875.7,792.5 1876.2,796.5C1876.7,800.5 1877.2,804.6 1877.7,808.6C1878.2,812.6 1878.8,816.6 1879.3,820.7C1879.8,824.7 1880.3,828.8 1880.8,832.8C1881.3,836.8 1881.8,840.9 1882.3,844.9C1882.8,848.9 1883.3,853.0 1883.8,857.0C1884.3,861.1 1884.8,865.1 1885.3,869.1C1885.8,873.2 1886.3,877.2 1886.8,881.3C1887.3,885.3 1887.8,889.3 1888.3,893.4C1888.8,897.4 1889.3,901.5 1889.8,905.5C1890.3,909.5 1890.8,913.6 1891.4,917.6C1891.9,921.7 1892.4,925.7 1892.9,929.7C1893.5,933.8 1894.0,937.8 1894.5,941.8C1895.1,945.9 1895.6,949.9 1896.1,953.9C1896.7,958.0 1897.2,962.0 1897.8,966.0C1898.4,970.1 1898.9,974.1 1899.5,978.1C1900.1,982.2 1900.6,986.2 1901.2,990.2C1901.8,994.2 1902.4,998.3 1903.0,1002.3C1903.6,1006.3 1904.2,1010.3 1904.8,1014.3C1905.4,1018.4 1906.1,1022.4 1906.7,1026.4C1907.3,1030.4 1908.0,1034.4 1908.6,1038.4C1909.3,1042.4 1910.0,1046.4 1910.7,1050.4C1911.3,1054.4 1912.0,1058.4 1912.7,1062.4C1913.4,1066.4 1914.1,1070.4 1914.9,1074.4C1915.6,1078.3 1916.3,1082.3 1917.1,1086.3C1917.8,1090.3 1918.6,1094.3 1919.4,1098.2C1920.1,1102.2 1920.9,1106.2 1921.7,1110.1C1922.5,1114.1 1923.4,1118.1 1924.2,1122.0C1925.0,1126.0 1925.9,1129.9 1926.8,1133.9C1927.6,1137.8 1928.5,1141.7 1929.4,1145.7C1930.3,1149.6 1931.2,1153.5 1932.2,1157.5C1933.1,1161.4 1934.1,1165.3 1935.1,1169.2C1936.1,1173.1 1937.1,1177.0 1938.2,1180.9C1939.3,1184.8 1940.4,1188.7 1941.6,1192.6C1942.8,1196.5 1944.0,1200.3 1945.4,1204.2C1946.7,1208.1 1948.0,1211.9 1949.6,1215.7C1951.1,1219.5 1952.4,1222.9 1954.4,1227.0C1956.5,1231.2 1959.1,1236.5 1962.0,1240.6C1964.9,1244.7 1968.2,1247.8 1972.0,1251.8C1975.8,1255.8 1980.3,1260.5 1984.5,1264.3C1988.7,1268.0 1992.8,1270.8 1997.0,1274.3C2001.2,1277.8 2005.8,1282.2 2009.5,1285.5C2013.2,1288.8 2016.2,1291.5 2019.5,1294.2C2022.8,1296.9 2026.1,1298.7 2029.4,1301.7C2032.7,1304.7 2036.1,1308.5 2039.4,1312.2C2042.7,1316.0 2046.7,1321.1 2049.4,1324.2C2052.1,1327.3 2053.6,1329.1 2055.5,1330.8C2057.4,1332.5 2059.2,1333.5 2060.9,1334.2C2062.7,1334.9 2064.5,1334.7 2066.0,1334.8C2067.5,1334.9 2069.3,1334.8 2070.0,1334.8"/>
</g>
<g fill="none" stroke-width="8.7" stroke-linecap="round">
<line x1="386.2" y1="210.4" x2="558.5" y2="210.4" stroke="#757575"/>
<line x1="386.2" y1="306.9" x2="558.5" y2="306.9" stroke="#fc3b3b"/>
<line x1="386.2" y1="402.9" x2="558.5" y2="402.9" stroke="#006be4"/>
</g>
<text class="b" style="font-size:78px" x="579" y="236.5" textLength="110.4" lengthAdjust="spacingAndGlyphs">M2</text>
<text class="b" style="font-size:78px" x="579" y="332.5" textLength="110.4" lengthAdjust="spacingAndGlyphs">M3</text>
<text class="b" style="font-size:78px" x="576.5" y="428.3" textLength="897" lengthAdjust="spacing">Commercial PP membrane</text>
<text class="tk" text-anchor="middle" transform="translate(501.0,1607.2) scale(1,1.040)">50</text>
<text class="tk" text-anchor="middle" transform="translate(706.0,1607.2) scale(1,1.040)">100</text>
<text class="tk" text-anchor="middle" transform="translate(911.0,1607.2) scale(1,1.040)">200</text>
<text class="tk" text-anchor="middle" transform="translate(1388.0,1607.2) scale(1,1.040)">1000</text>
<text class="tk" text-anchor="middle" transform="translate(1593.0,1607.2) scale(1,1.040)">2000</text>
<text class="tk" text-anchor="middle" transform="translate(1798.0,1607.2) scale(1,1.040)">4000</text>
<text class="tk" text-anchor="end" transform="translate(197.3,1380.5) scale(1,1.040)">0</text>
<text class="tk" text-anchor="end" transform="translate(197.3,1051.5) scale(1,1.000)">1</text>
<text class="tk" text-anchor="end" transform="translate(197.3,722.5) scale(1,1.000)">2</text>
<text class="tk" text-anchor="end" transform="translate(197.3,393.5) scale(1,1.000)">3</text>
<text class="tk" text-anchor="end" transform="translate(197.3,64.5) scale(1,1.000)">4</text>
<text class="b" style="font-size:77.6px" y="1734.5"><tspan x="902.8">Pore size</tspan><tspan class="cj" style="font-size:66.5px" stroke="#000" stroke-width="1.1" x="1197" dy="-1.3">（</tspan><tspan x="1273.5" dy="1.3">nm</tspan><tspan class="cj" style="font-size:66.5px" stroke="#000" stroke-width="1.1" x="1388" dy="-1.3">）</tspan></text>
<text class="b" transform="translate(78,953) rotate(-90)">-dV/d(log d)</text>
</svg></body></html>
